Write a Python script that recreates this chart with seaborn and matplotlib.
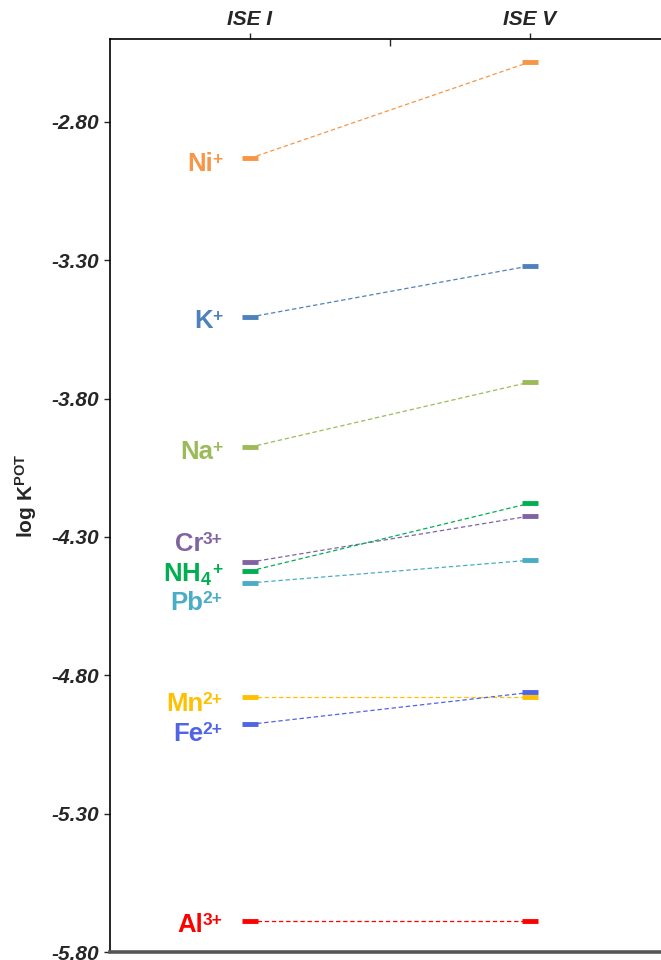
import matplotlib
matplotlib.use("Agg")
import matplotlib.pyplot as plt
import seaborn as sns
import pandas as pd
from matplotlib.ticker import FixedLocator, FormatStrFormatter

# Electrodes compared and the interfering ions (symbol, charge)
electrodes = ["ISE I", "ISE V"]
ion_symbols = ["Ni", "K", "Na", "Cr", "NH$_{4}$", "Pb", "Mn", "Fe", "Al"]
ion_charges = ["+", "+", "+", "3+", "+", "2+", "2+", "2+", "3+"]
ions = ["Ni+", "K+", "Na+", "Cr3+", "NH4+", "Pb2+", "Mn2+", "Fe2+", "Al3+"]

# log K^POT selectivity coefficients per electrode
logk_ise_i = [-2.931, -3.505, -3.975, -4.391, -4.423, -4.466, -4.877, -4.977, -5.688]
logk_ise_v = [-2.583, -3.320, -3.740, -4.224, -4.178, -4.384, -4.877, -4.862, -5.688]

ion_colors = ["#F79646", "#4F81BD", "#9BBB59", "#8064A2", "#00B050",
              "#4BACC6", "#FFC000", "#5064E4", "#FF0000"]

# height (points) of each name's cap line above its ISE I marker
label_dy = [4.3, 5.8, 5.0, 21.6, 6.5, -5.8, 3.6, 1.4, 5.8]

y_ticks = [-2.80, -3.30, -3.80, -4.30, -4.80, -5.30, -5.80]

df = pd.DataFrame({
    "ion": ions * 2,
    "electrode": [electrodes[0]] * len(ions) + [electrodes[1]] * len(ions),
    "logK": logk_ise_i + logk_ise_v,
})

sns.set_style("ticks")
plt.rcParams["font.family"] = ["Liberation Sans", "DejaVu Sans"]
plt.rcParams["mathtext.default"] = "regular"

fig = plt.figure(figsize=(6.61, 9.60), dpi=100)
ax = fig.add_axes([110 / 661, 8 / 960, 560 / 661, 913 / 960])

sns.pointplot(
    data=df, x="electrode", y="logK", hue="ion",
    order=electrodes, hue_order=ions,
    palette=dict(zip(ions, ion_colors)),
    markers="_", linestyles=(0, (3.5, 2.2)), dodge=False,
    errorbar=None, legend=False, ax=ax,
    linewidth=0.9, markersize=11, markeredgewidth=3.5,
)

# ion names: the charge is anchored at the right, the symbol sits to its left
for sym, chg, v, c, dy in zip(ion_symbols, ion_charges, logk_ise_i,
                              ion_colors, label_dy):
    sup = ax.annotate(chg, xy=(0, v), xytext=(-20, dy),
                      textcoords="offset points", ha="right", va="top",
                      color=c, fontsize=12.5, fontweight="bold")
    ax.annotate(sym, xy=(0, 1), xycoords=sup, xytext=(0.6, 0),
                textcoords="offset points", ha="right", va="top",
                color=c, fontsize=18.5, fontweight="bold")

ax.set_xlim(-0.5, 1.5)
ax.set_ylim(-5.80, -2.50)

# category labels along the top
ax.xaxis.tick_top()
ax.set_xlabel("")
ax.set_xticks([0, 1])
ax.set_xticklabels(electrodes)
ax.xaxis.set_minor_locator(FixedLocator([0.5]))
ax.tick_params(axis="x", which="major", direction="out", length=4, width=1,
               pad=3, labelsize=15, top=True, bottom=False)
ax.tick_params(axis="x", which="minor", direction="in", length=5, width=1,
               top=True, bottom=False)

ax.set_yticks(y_ticks)
ax.yaxis.set_major_formatter(FormatStrFormatter("%.2f"))
ax.tick_params(axis="y", direction="out", length=4, width=1, pad=4,
               labelsize=15)
for lbl in ax.get_xticklabels() + ax.get_yticklabels():
    lbl.set_fontweight("bold")
    lbl.set_fontstyle("italic")

ax.set_ylabel("log K$^{POT}$", fontsize=15, fontweight="bold", labelpad=9)

for side in ("top", "left"):
    ax.spines[side].set_color("black")
    ax.spines[side].set_linewidth(1.2)
ax.spines["bottom"].set_color("#555555")
ax.spines["bottom"].set_linewidth(2.6)
ax.spines["right"].set_visible(False)

fig.savefig("out.png", dpi=100)
